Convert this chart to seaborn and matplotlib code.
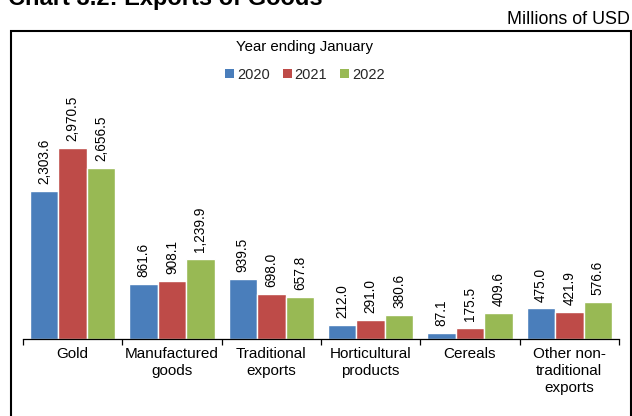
import matplotlib
matplotlib.use("Agg")
import matplotlib.pyplot as plt
from matplotlib.patches import Rectangle, Patch
from matplotlib.ticker import FixedLocator
import seaborn as sns
import pandas as pd

# Export categories and annual values (millions of USD, year ending January)
categories = ["Gold", "Manufactured\ngoods", "Traditional\nexports",
              "Horticultural\nproducts", "Cereals", "Other non-\ntraditional\nexports"]
years = ["2020", "2021", "2022"]
values_2020 = [2303.6, 861.6, 939.5, 212.0, 87.1, 475.0]
values_2021 = [2970.5, 908.1, 698.0, 291.0, 175.5, 421.9]
values_2022 = [2656.5, 1239.9, 657.8, 380.6, 409.6, 576.6]
colors = ["#4a7ebb", "#be4b48", "#98b954"]

rows = []
for yr, vals in zip(years, [values_2020, values_2021, values_2022]):
    for cat, v in zip(categories, vals):
        rows.append({"category": cat, "year": yr, "value": v})
df = pd.DataFrame(rows)

sns.set_theme(style="white")
plt.rcParams["font.family"] = ["Liberation Sans", "DejaVu Sans"]

W, H = 632, 416
fig = plt.figure(figsize=(W / 100, H / 100), dpi=100)
ax = fig.add_axes([23 / W, 1 - 339 / H, (619 - 23) / W, 289 / H])

sns.barplot(data=df, x="category", y="value", hue="year", order=categories,
            hue_order=years, palette=colors, width=0.86, saturation=1,
            ax=ax, legend=False, errorbar=None)

for cont in ax.containers:
    ax.bar_label(cont, fmt="{:,.1f}", rotation=90, padding=5,
                 fontsize=9.8, color="black")

ax.set_xlim(-0.5, len(categories) - 0.5)
ax.set_ylim(0, 4500)
ax.set_xlabel("")
ax.set_ylabel("")
ax.set_yticks([])
for side in ["left", "top", "right"]:
    ax.spines[side].set_visible(False)
ax.spines["bottom"].set_color("black")
ax.spines["bottom"].set_linewidth(0.9)

# Category separators as tick marks, labels centred under each group
ax.xaxis.set_minor_locator(FixedLocator([i - 0.5 for i in range(len(categories) + 1)]))
ax.tick_params(axis="x", which="minor", bottom=True, length=4, width=0.9, color="black")
ax.tick_params(axis="x", which="major", bottom=False, length=0, pad=6,
               labelsize=11, labelcolor="black")
for lbl in ax.get_xticklabels():
    lbl.set_linespacing(1.25)

# Legend with its heading above
fig.text(305 / W, 1 - 47 / H, "Year ending January", ha="center", va="center",
         fontsize=10.8, color="black")
handles = [Patch(facecolor=c, edgecolor="none") for c in colors]
fig.legend(handles, years, loc="center", bbox_to_anchor=(305 / W, 1 - 75 / H),
           ncol=3, frameon=False, handlelength=0.6, handleheight=0.6,
           handletextpad=0.2, columnspacing=0.9, fontsize=10.5)

# Chart heading, unit note and outer frame
fig.text(8 / W, 1 - 5 / H, "Chart 3.2: Exports of Goods", ha="left",
         va="baseline", fontsize=17, fontweight="bold", color="black")
fig.text(630 / W, 1 - 19 / H, "Millions of USD", ha="right", va="center",
         fontsize=12.9, color="black")
fig.add_artist(Rectangle((11 / W, -0.1), (631 - 11) / W, 1 - 31 / H + 0.1,
                         transform=fig.transFigure, fill=False, lw=1.5,
                         edgecolor="black"))

fig.savefig("out.png", dpi=100)
